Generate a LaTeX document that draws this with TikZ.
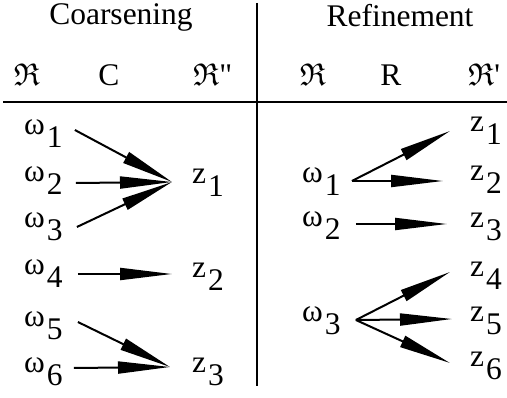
\documentclass[tikz,border=0pt]{standalone}
\usepackage{amssymb}
\usepackage{fontspec}
\setmainfont{Liberation Serif}
\newfontfamily\plainquote{Liberation Serif}
\usetikzlibrary{arrows.meta,calc}
% element with a full-size, lowered index
\newcommand{\idx}[2]{#1\kern2pt\raisebox{-13pt}{#2}}

\begin{document}
\begin{tikzpicture}[
  x=1pt,y=-1pt,
  every node/.style={font=\fontsize{31.5}{36}\selectfont,inner sep=0pt},
  head/.style={anchor=base},
  elem/.style={anchor=base west},
  arrow/.style={-{Triangle[length=52pt,width=12pt]},line width=2pt},
  rule/.style={line width=1.8pt}
]
\useasboundingbox (0,0) rectangle (507,398);
% headings
\node[head] (coarse) at (121,25) {Coarsening};
\node[head] (refine) at (400,27) {Refinement};
\node[head] (lspace) at (27,86) {$\mathfrak{R}$};
\node[head] (cmap) at (109,86) {C};
\node[elem] (cspace) at (193,86) {$\mathfrak{R}${\plainquote\symbol{"22}}};
\node[head] (rspace) at (313,86) {$\mathfrak{R}$};
\node[head] (rmap) at (391,86) {R};
\node[elem] (fspace) at (468,86) {$\mathfrak{R}${\plainquote\symbol{"27}}};
% table rules
\draw[rule] (3,102) -- (507,102);
\draw[rule] (257,3) -- (257,386);
% coarsening
\node[elem] (cw1) at (24,135) {\idx{ω}{1}};
\node[elem] (cw2) at (24,182) {\idx{ω}{2}};
\node[elem] (cw3) at (24,228) {\idx{ω}{3}};
\node[elem] (cw4) at (24,275) {\idx{ω}{4}};
\node[elem] (cw5) at (24,327) {\idx{ω}{5}};
\node[elem] (cw6) at (24,373) {\idx{ω}{6}};
\node[elem] (cz1) at (192,184) {\idx{z}{1}};
\node[elem] (cz2) at (192,278) {\idx{z}{2}};
\node[elem] (cz3) at (192,373) {\idx{z}{3}};
\draw[arrow] ($(cw1.base east)+(12,-5)$) -- ($(cz1.base west)+(-20,-2)$);
\draw[arrow] ($(cw2.base east)+(13,1)$) -- ($(cz1.base west)+(-20,-2)$);
\draw[arrow] ($(cw3.base east)+(14,-1)$) -- ($(cz1.base west)+(-20,-2)$);
\draw[arrow] ($(cw4.base east)+(15,-1)$) -- ($(cz2.base west)+(-20,-4)$);
\draw[arrow] ($(cw5.base east)+(15,-5)$) -- ($(cz3.base west)+(-22,-6)$);
\draw[arrow] ($(cw6.base east)+(11,-5)$) -- ($(cz3.base west)+(-22,-6)$);
% refinement
\node[elem] (rw1) at (302,183) {\idx{ω}{1}};
\node[elem] (rw2) at (302,227) {\idx{ω}{2}};
\node[elem] (rw3) at (302,322) {\idx{ω}{3}};
\node[elem] (rz1) at (470,132) {\idx{z}{1}};
\node[elem] (rz2) at (470,181) {\idx{z}{2}};
\node[elem] (rz3) at (470,228) {\idx{z}{3}};
\node[elem] (rz4) at (470,277) {\idx{z}{4}};
\node[elem] (rz5) at (470,322) {\idx{z}{5}};
\node[elem] (rz6) at (470,367) {\idx{z}{6}};
\draw[arrow] ($(rw1.base east)+(11,-2)$) -- ($(rz1.base west)+(-20,-1)$);
\draw[arrow] ($(rw1.base east)+(11,-2)$) -- ($(rz2.base west)+(-27,0)$);
\draw[arrow] ($(rw2.base east)+(15,-3)$) -- ($(rz3.base west)+(-23,-4)$);
\draw[arrow] ($(rw3.base east)+(15,-2)$) -- ($(rz4.base west)+(-20,-5)$);
\draw[arrow] ($(rw3.base east)+(15,-2)$) -- ($(rz5.base west)+(-18,-3)$);
\draw[arrow] ($(rw3.base east)+(15,-2)$) -- ($(rz6.base west)+(-20,-4)$);
\end{tikzpicture}
\end{document}
